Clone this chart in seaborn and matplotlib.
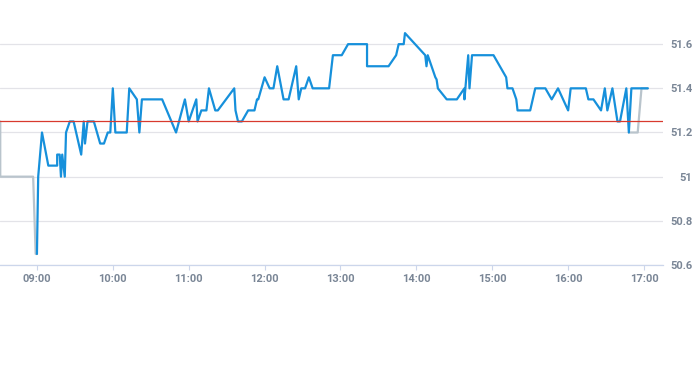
import matplotlib
matplotlib.use("Agg")
import matplotlib.pyplot as plt
import seaborn as sns
import pandas as pd

# ---- data ----
main_times = ["09:00","09:01","09:04","09:09","09:16","09:16","09:18","09:19","09:20","09:22",
              "09:23","09:26","09:29","09:35","09:37","09:38","09:40","09:45","09:50","09:53",
              "09:56","09:58","10:00","10:02","10:11","10:13","10:19","10:21","10:23","10:39",
              "10:50","10:57","11:00","11:06","11:07","11:10","11:14","11:16","11:21","11:23",
              "11:36","11:37","11:39","11:42","11:47","11:52","11:54","11:55","12:00","12:04",
              "12:07","12:10","12:15","12:19","12:25","12:27","12:29","12:32","12:35","12:38",
              "12:51","12:54","13:01","13:06","13:21","13:21","13:38","13:44","13:46","13:50",
              "13:51","14:07","14:08","14:09","14:15","14:16","14:17","14:24","14:32","14:38",
              "14:38","14:41","14:42","14:44","15:01","15:11","15:12","15:16","15:19","15:20",
              "15:30","15:34","15:42","15:47","15:52","16:00","16:02","16:14","16:16","16:20",
              "16:26","16:29","16:31","16:35","16:39","16:41","16:46","16:48","16:50","17:03"]
main_prices = [50.65,51.0,51.2,51.05,51.05,51.1,51.1,51.0,51.1,51.0,
               51.2,51.25,51.25,51.1,51.25,51.15,51.25,51.25,51.15,51.15,
               51.2,51.2,51.4,51.2,51.2,51.4,51.35,51.2,51.35,51.35,
               51.2,51.35,51.25,51.35,51.25,51.3,51.3,51.4,51.3,51.3,
               51.4,51.3,51.25,51.25,51.3,51.3,51.35,51.35,51.45,51.4,
               51.4,51.5,51.35,51.35,51.5,51.35,51.4,51.4,51.45,51.4,
               51.4,51.55,51.55,51.6,51.6,51.5,51.5,51.55,51.6,51.6,
               51.65,51.55,51.5,51.55,51.45,51.44,51.4,51.35,51.35,51.4,
               51.35,51.55,51.4,51.55,51.55,51.45,51.4,51.4,51.35,51.3,
               51.3,51.4,51.4,51.35,51.4,51.3,51.4,51.4,51.35,51.35,
               51.3,51.4,51.3,51.4,51.25,51.25,51.4,51.2,51.4,51.4]

pre_times = ["08:31","08:31","08:57","08:59","09:00"]
pre_prices = [51.25,51.0,51.0,50.65,50.65]

post_times = ["16:48","16:55","16:58","17:03"]
post_prices = [51.2,51.2,51.4,51.4]

prev_close = 51.25

x_tick_labels = ["09:00","10:00","11:00","12:00","13:00","14:00","15:00","16:00","17:00"]
y_ticks = [50.6, 50.8, 51.0, 51.2, 51.4, 51.6]
y_tick_labels = ["50.6","50.8","51","51.2","51.4","51.6"]


def to_hours(ts):
    out = []
    for t in ts:
        h, m = t.split(":")
        out.append(int(h) + int(m) / 60.0)
    return out


main_df = pd.DataFrame({"t": to_hours(main_times), "p": main_prices})
pre_df = pd.DataFrame({"t": to_hours(pre_times), "p": pre_prices})
post_df = pd.DataFrame({"t": to_hours(post_times), "p": post_prices})

sns.set_theme(style="white")
plt.rcParams["font.family"] = ["Roboto", "DejaVu Sans"]

fig = plt.figure(figsize=(6.93, 3.65), dpi=100)
ax = fig.add_axes([0.0, 1 - 265 / 365, 663 / 693, 265 / 365])

grey = "#b9c4cc"
blue = "#1690db"

sns.lineplot(data=pre_df, x="t", y="p", ax=ax, color=grey, linewidth=1.6, sort=False, estimator=None)
sns.lineplot(data=post_df, x="t", y="p", ax=ax, color=grey, linewidth=1.6, sort=False, estimator=None)
sns.lineplot(data=main_df, x="t", y="p", ax=ax, color=blue, linewidth=1.6, sort=False, estimator=None)
ax.axhline(prev_close, color="#d83a2e", linewidth=0.9, zorder=3)

ax.set_xlim(8 + 30.8 / 60, 17.25)
ax.set_ylim(50.6, 51.8)

ax.set_yticks(y_ticks)
ax.set_yticklabels(y_tick_labels)
ax.set_xticks(to_hours(x_tick_labels))
ax.set_xticklabels(x_tick_labels)

ax.grid(axis="y", color="#e3e3e8", linewidth=0.9)
ax.grid(axis="x", visible=False)
ax.set_axisbelow(True)

for s in ["top", "left", "right"]:
    ax.spines[s].set_visible(False)
ax.spines["bottom"].set_color("#ccd6eb")
ax.spines["bottom"].set_linewidth(0.9)

label_color = "#7a8696"
ax.tick_params(axis="x", bottom=True, length=3.6, width=0.8, color="#ccd6eb",
               labelsize=8, labelcolor=label_color, pad=3)
ax.tick_params(axis="y", left=False, labelleft=False, right=False, labelright=True,
               length=0, labelsize=8, labelcolor=label_color, pad=21)

ax.set_xlabel("")
ax.set_ylabel("")

fig.canvas.draw()
for tick in ax.yaxis.get_major_ticks():
    tick.label2.set_horizontalalignment("right")
    tick.label2.set_fontweight("bold")
for tick in ax.xaxis.get_major_ticks():
    tick.label1.set_fontweight("bold")

fig.savefig("out.png", dpi=100)
